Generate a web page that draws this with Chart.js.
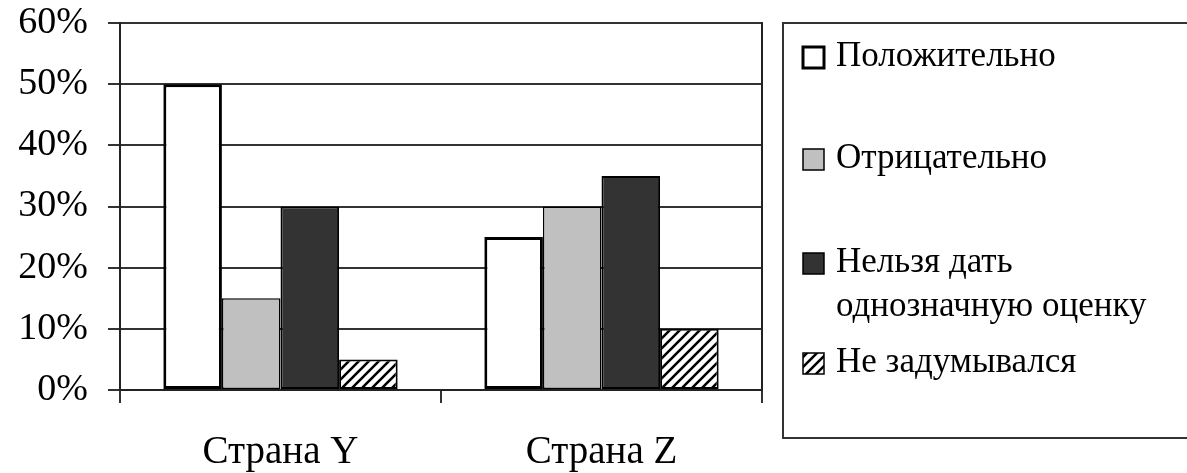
<!DOCTYPE html>
<html>
<head>
    <meta charset="utf-8">
    <title>Страна Y / Страна Z</title>
    <script src="https://cdn.jsdelivr.net/npm/chart.js@4.4.0/dist/chart.umd.min.js"></script>
</head>
<body style="margin:0; background-color: white;">
    <canvas id="myChart" width="1187" height="473"></canvas>
    <script>
        // datos
        var paises = ['Страна Y', 'Страна Z'];
        var series = ['Положительно', 'Отрицательно', 'Нельзя дать однозначную оценку', 'Не задумывался'];
        var positivo = [50, 25];
        var negativo = [15, 30];
        var indeciso = [30, 35];
        var noPenso = [5, 10];
        var ticksY = [0, 10, 20, 30, 40, 50, 60];

        var fuente = '"Liberation Serif", "Times New Roman", serif';

        // patrón rayado para "Не задумывался"
        function rayado() {
            var c = document.createElement('canvas');
            c.width = 10; c.height = 10;
            var p = c.getContext('2d');
            p.fillStyle = 'white';
            p.fillRect(0, 0, 10, 10);
            p.strokeStyle = 'black';
            p.lineWidth = 2.6;
            p.beginPath();
            p.moveTo(-1, 11); p.lineTo(11, -1);
            p.moveTo(-6, 6); p.lineTo(6, -6);
            p.moveTo(4, 16); p.lineTo(16, 4);
            p.stroke();
            return p.createPattern(c, 'repeat');
        }
        var trama = rayado();

        var rellenos = ['#ffffff', '#c0c0c0', '#333333', trama];
        var bordes = [3, 1.5, 2, 2];
        var valores = [positivo, negativo, indeciso, noPenso];

        Chart.defaults.font.family = fuente;
        Chart.defaults.color = '#000';

        var ctx = document.getElementById('myChart').getContext('2d');

        // leyenda con marco a la derecha
        var leyenda = {
            id: 'leyenda',
            afterDraw: function (chart) {
                var c = chart.ctx;
                c.save();
                c.strokeStyle = '#333';
                c.lineWidth = 2;
                c.strokeRect(783, 23, 420, 415);
                c.font = '35px ' + fuente;
                c.textBaseline = 'middle';
                var ys = [57, 159, 263, 363];
                series.forEach(function (nombre, i) {
                    var y = ys[i];
                    c.fillStyle = rellenos[i];
                    c.fillRect(803, y - 10, 21, 21);
                    c.strokeStyle = '#000';
                    c.lineWidth = i === 0 ? 3 : 1.5;
                    c.strokeRect(803, y - 10, 21, 21);
                    // cortar el texto en líneas
                    var palabras = nombre.split(' ');
                    var lineas = [];
                    var actual = '';
                    palabras.forEach(function (w) {
                        var prueba = actual ? actual + ' ' + w : w;
                        if (c.measureText(prueba).width > 345 && actual) {
                            lineas.push(actual);
                            actual = w;
                        } else {
                            actual = prueba;
                        }
                    });
                    lineas.push(actual);
                    c.fillStyle = '#000';
                    lineas.forEach(function (l, k) {
                        c.fillText(l, 836, y + k * 44);
                    });
                });
                c.restore();
            }
        };

        var datosGrafica = {
            labels: paises,
            datasets: series.map(function (nombre, i) {
                return {
                    label: nombre,
                    data: valores[i],
                    backgroundColor: rellenos[i],
                    borderColor: '#000',
                    borderWidth: bordes[i],
                    borderSkipped: false,
                    categoryPercentage: 0.73,
                    barPercentage: 1.0
                };
            })
        };

        var opciones = {
            responsive: false,
            animation: false,
            devicePixelRatio: 1,
            layout: { padding: { left: 0, top: 23, right: 425, bottom: 0 } },
            scales: {
                x: {
                    afterFit: function (s) { s.height = 83; s.paddingLeft = 0; s.paddingRight = 0; },
                    grid: { offset: true, drawOnChartArea: false, tickLength: 13, color: '#333', lineWidth: 2 },
                    border: { display: true, color: '#222', width: 2 },
                    ticks: { font: { size: 39 }, padding: 26, color: '#000' }
                },
                y: {
                    min: 0,
                    max: 60,
                    afterFit: function (s) { s.width = 120; s.paddingTop = 0; s.paddingBottom = 0; },
                    afterBuildTicks: function (s) { s.ticks = ticksY.map(function (v) { return { value: v }; }); },
                    grid: { tickLength: 12, color: '#333', lineWidth: 2 },
                    border: { display: true, color: '#222', width: 2 },
                    ticks: {
                        font: { size: 38 },
                        padding: 20,
                        color: '#000',
                        callback: function (v) { return v + '%'; }
                    }
                },
                y2: {
                    position: 'right',
                    min: 0,
                    max: 60,
                    afterFit: function (s) { s.width = 0; s.paddingTop = 0; s.paddingBottom = 0; },
                    grid: { drawOnChartArea: false, drawTicks: false },
                    border: { display: true, color: '#222', width: 2 },
                    ticks: { display: false }
                }
            },
            plugins: {
                legend: { display: false },
                tooltip: { enabled: false }
            }
        };

        var myChart = new Chart(ctx, {
            type: 'bar',
            data: datosGrafica,
            options: opciones,
            plugins: [leyenda]
        });
    </script>
</body>
</html>
